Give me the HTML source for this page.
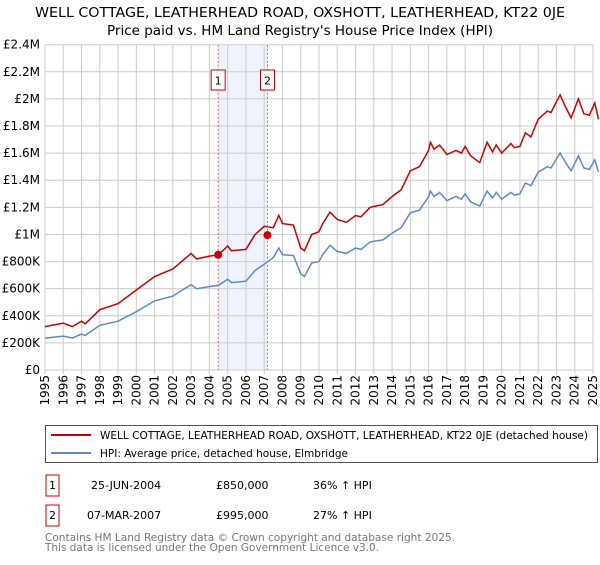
<!DOCTYPE html>
<html><head><meta charset="utf-8"><style>
body{margin:0;background:#fff;font-family:"Liberation Sans","DejaVu Sans",sans-serif;}
svg text{font-family:"DejaVu Sans","Liberation Sans",sans-serif;}
</style></head><body>
<svg id="c" width="600" height="560" viewBox="0 0 600 560" xmlns="http://www.w3.org/2000/svg">
<text x="35" y="17" font-size="13" textLength="530" lengthAdjust="spacingAndGlyphs" fill="#000">WELL COTTAGE, LEATHERHEAD ROAD, OXSHOTT, LEATHERHEAD, KT22 0JE</text>
<text x="107" y="35" font-size="13" textLength="386" lengthAdjust="spacingAndGlyphs" fill="#000">Price paid vs. HM Land Registry's House Price Index (HPI)</text>
<g id="grid"></g><g id="axes"></g><g id="series"></g><g id="marks"></g>
<rect x="45.5" y="425.5" width="552" height="37" fill="#fff" stroke="#555"/>
<line x1="51" y1="435" x2="91" y2="435" stroke="#cc0000" stroke-width="2"/>
<text x="100" y="439" font-size="11" textLength="488" lengthAdjust="spacingAndGlyphs">WELL COTTAGE, LEATHERHEAD ROAD, OXSHOTT, LEATHERHEAD, KT22 0JE (detached house)</text>
<line x1="51" y1="453" x2="91" y2="453" stroke="#5b8ad0" stroke-width="2"/>
<text x="100" y="457" font-size="11" textLength="248" lengthAdjust="spacingAndGlyphs">HPI: Average price, detached house, Elmbridge</text>
<rect x="46" y="475" width="13" height="21" fill="none" stroke="#cc0000"/>
<text x="52.5" y="489" text-anchor="middle" font-size="11">1</text>
<text x="91" y="489" font-size="11">25-JUN-2004</text>
<text x="216" y="489" font-size="11">£850,000</text>
<text x="313" y="489" font-size="11">36% ↑ HPI</text>
<rect x="46" y="505" width="13" height="21" fill="none" stroke="#cc0000"/>
<text x="52.5" y="519" text-anchor="middle" font-size="11">2</text>
<text x="87" y="519" font-size="11">07-MAR-2007</text>
<text x="216" y="519" font-size="11">£995,000</text>
<text x="313" y="519" font-size="11">27% ↑ HPI</text>
<text x="45" y="541" font-size="11" fill="#777" textLength="410" lengthAdjust="spacingAndGlyphs">Contains HM Land Registry data © Crown copyright and database right 2025.</text>
<text x="45" y="551" font-size="11" fill="#777" textLength="334" lengthAdjust="spacingAndGlyphs">This data is licensed under the Open Government Licence v3.0.</text>
</svg>
<script>
const years=[1995,1996,1996.5,1997,1997.2,1998,1999,2000,2001,2002,2003,2003.3,2004,2004.5,2005,2005.2,2006,2006.5,2007,2007.5,2007.8,2008,2008.6,2009,2009.2,2009.6,2010,2010.2,2010.6,2011,2011.5,2012,2012.3,2012.8,2013.5,2014,2014.5,2015,2015.5,2016,2016.1,2016.3,2016.6,2017,2017.5,2017.8,2018,2018.3,2018.8,2019.2,2019.5,2019.7,2020,2020.5,2020.7,2021,2021.3,2021.6,2022,2022.5,2022.7,2023,2023.2,2023.5,2023.8,2024.2,2024.5,2024.8,2025.1,2025.3];
const propertyValues=[0.32,0.345,0.32,0.36,0.34,0.445,0.49,0.59,0.69,0.745,0.86,0.82,0.84,0.85,0.915,0.88,0.89,1.0,1.06,1.05,1.14,1.08,1.07,0.9,0.88,1.0,1.02,1.08,1.165,1.11,1.09,1.14,1.13,1.2,1.22,1.28,1.33,1.47,1.5,1.62,1.68,1.63,1.66,1.59,1.62,1.6,1.65,1.58,1.53,1.68,1.61,1.66,1.6,1.67,1.64,1.65,1.75,1.72,1.85,1.91,1.9,1.98,2.03,1.94,1.86,2.0,1.89,1.88,1.97,1.85];
const hpiValues=[0.235,0.25,0.235,0.265,0.255,0.33,0.36,0.43,0.51,0.545,0.63,0.6,0.615,0.625,0.67,0.645,0.655,0.735,0.78,0.83,0.9,0.85,0.845,0.71,0.69,0.79,0.8,0.85,0.92,0.875,0.86,0.9,0.89,0.945,0.96,1.01,1.05,1.16,1.18,1.28,1.32,1.28,1.31,1.25,1.28,1.26,1.3,1.24,1.21,1.32,1.27,1.31,1.26,1.31,1.29,1.3,1.38,1.36,1.46,1.5,1.49,1.56,1.6,1.53,1.47,1.58,1.49,1.48,1.55,1.46];
const yTicks=[0,0.2,0.4,0.6,0.8,1.0,1.2,1.4,1.6,1.8,2.0,2.2,2.4];
const yTickLabels=["£0","£200K","£400K","£600K","£800K","£1M","£1.2M","£1.4M","£1.6M","£1.8M","£2M","£2.2M","£2.4M"];
const xTicks=[1995,1996,1997,1998,1999,2000,2001,2002,2003,2004,2005,2006,2007,2008,2009,2010,2011,2012,2013,2014,2015,2016,2017,2018,2019,2020,2021,2022,2023,2024,2025];
const saleYears=[2004.48,2007.18];
const salePrices=[0.85,0.995];
const saleLabels=["1","2"];
const X0=45,X1=593,Y0=370,Y1=44.7;
const xs=y=>X0+(y-1995)/30*(X1-X0);
const ys=v=>Y0-v/2.4*(Y0-Y1);
const NS="http://www.w3.org/2000/svg";
function mk(tag,attrs,parent,txt){const e=document.createElementNS(NS,tag);for(const k in attrs)e.setAttribute(k,attrs[k]);if(txt!==undefined)e.textContent=txt;document.getElementById(parent).appendChild(e);return e;}
let sh=mk('rect',{x:xs(saleYears[0]),y:Y1,width:xs(saleYears[1])-xs(saleYears[0]),height:Y0-Y1,fill:'#eef3fc'},'grid');


yTicks.forEach((t,i)=>{
 let l=mk('line',{x1:X0,x2:X1,y1:ys(t),y2:ys(t),stroke:'#cccccc'},'grid');
 
 
 let tx=mk('text',{x:40,y:ys(t)+4,'text-anchor':'end','font-size':'12'},'axes',yTickLabels[i]);
 
 
});
xTicks.forEach(t=>{
 let l=mk('line',{x1:xs(t),x2:xs(t),y1:Y1,y2:Y0+4,stroke:'#cccccc'},'grid');
 
 
 let tx=mk('text',{x:0,y:0,'text-anchor':'end','font-size':'12',transform:`translate(${xs(t)+4},375) rotate(-90)`},'axes',String(t));
 
 
});
let ax=mk('line',{x1:X0,x2:X0,y1:Y1,y2:Y0,stroke:'#cccccc'},'axes');


function path(vals){return vals.map((v,i)=>(i?'L':'M')+xs(years[i]).toFixed(1)+','+ys(v).toFixed(1)).join('');}
let hp=mk('path',{d:path(hpiValues),fill:'none',stroke:'#5b8ad0','stroke-width':1.5},'series');


let pp=mk('path',{d:path(propertyValues),fill:'none',stroke:'#cc0000','stroke-width':1.5},'series');


saleYears.forEach((s,i)=>{
 let l=mk('line',{x1:xs(s),x2:xs(s),y1:Y1,y2:Y0,stroke:'#e06060','stroke-dasharray':'2,2'},'marks');
 
 
 let r=mk('rect',{x:xs(s)-7,y:70,width:14,height:20,fill:'#fff',stroke:'#cc0000'},'marks');
 
 
 let t=mk('text',{x:xs(s),y:84.5,'text-anchor':'middle','font-size':'11'},'marks',saleLabels[i]);
 
 
 let c=mk('circle',{cx:xs(s),cy:ys(salePrices[i]),r:4,fill:'#cc0000'},'marks');
 
 
});
</script>
</body></html>
